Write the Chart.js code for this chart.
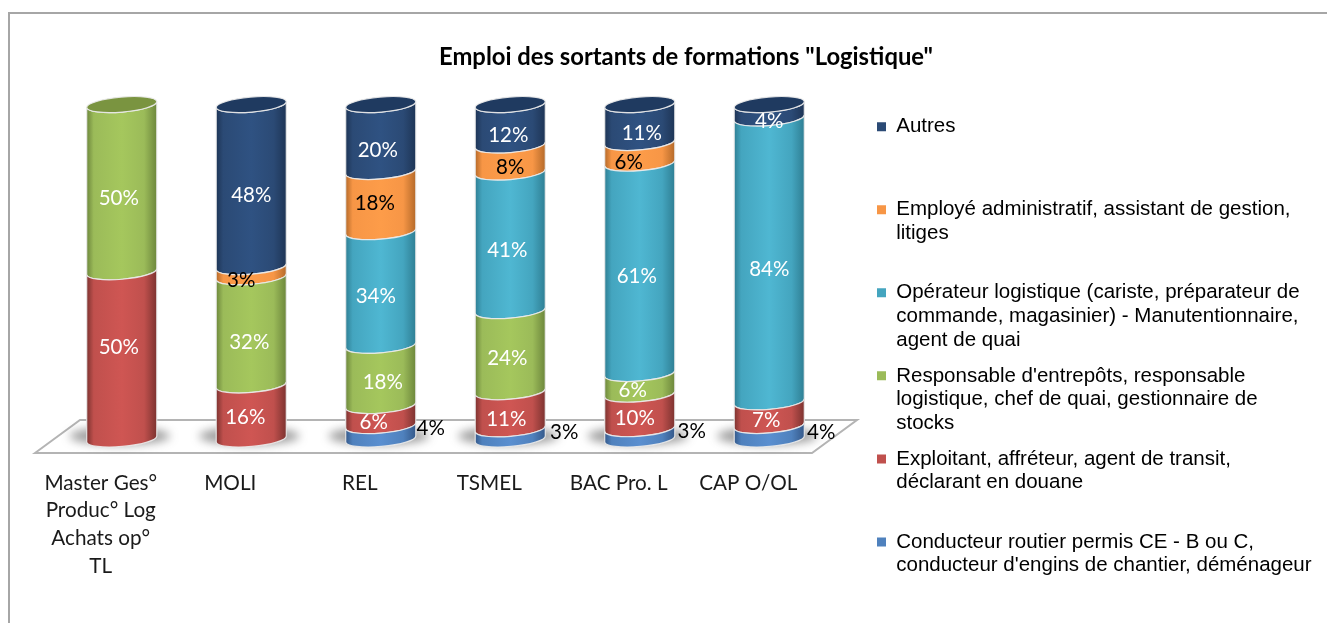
<!DOCTYPE html>
<html>
<head>
<meta charset="utf-8">
<script src="https://cdn.jsdelivr.net/npm/chart.js@4/dist/chart.umd.min.js"></script>
<style>
  html, body { margin: 0; padding: 0; background: #fff; overflow: hidden; }
  #wrap { position: relative; width: 1327px; height: 623px; }
  #frame { position: absolute; left: 8px; top: 12px; right: 0; bottom: 0; border-left: 2px solid #a6a6a6; border-top: 2px solid #a6a6a6; }
  canvas { position: absolute; left: 0; top: 0; }
</style>
</head>
<body>
<div id="wrap">
  <div id="frame"></div>
  <canvas id="chart" width="1327" height="623"></canvas>
</div>
<script>
const categories = [['Master Ges°', 'Produc° Log', 'Achats op°', 'TL'], 'MOLI', 'REL', 'TSMEL', 'BAC Pro. L', 'CAP O/OL'];

const conducteur = [0, 0, 4, 3, 3, 4];
const exploitant = [50, 16, 6, 11, 10, 7];
const responsable = [50, 32, 18, 24, 6, 0];
const operateur = [0, 0, 34, 41, 61, 84];
const employe = [0, 3, 18, 8, 6, 0];
const autres = [0, 48, 20, 12, 11, 4];

const legendConducteur = ['Conducteur routier permis CE - B ou C,', "conducteur d'engins de chantier, déménageur"];
const legendExploitant = ['Exploitant, affréteur, agent de transit,', 'déclarant en douane'];
const legendResponsable = ["Responsable d'entrepôts, responsable", 'logistique, chef de quai, gestionnaire de', 'stocks'];
const legendOperateur = ['Opérateur logistique (cariste, préparateur de', 'commande, magasinier) - Manutentionnaire,', 'agent de quai'];
const legendEmploye = ['Employé administratif, assistant de gestion,', 'litiges'];
const legendAutres = ['Autres'];

const chartTitle = 'Emploi des sortants de formations "Logistique"';

// the source is a 100% stacked chart, the printed values are rounded
const series = [conducteur, exploitant, responsable, operateur, employe, autres];
const totals = categories.map((c, i) => series.reduce((sum, s) => sum + s[i], 0));

function makeDataset(label, values, color, light, dark, cap) {
    return {
        label: label,
        data: values.map((v, i) => v / totals[i] * 100),
        raw: values,
        backgroundColor: color,
        borderWidth: 0,
        light: light,
        dark: dark,
        cap: cap
    };
}

const tilt = 3;      // how much the ellipses lean
const ry = 7.5;

// labels were moved by hand in the source chart: [dx, dy] per dataset and column
const labelNudge = [
    [[0, 0], [0, 0], [0, 0], [4, 2], [2, 2], [2, 4]],
    [[0, -14], [-3, -1], [-4, 1], [-1, 3], [-2, 1], [0, 1]],
    [[0, 4], [1, 5], [5, 1], [0, 1], [-4, 1], [0, 0]],
    [[0, 0], [0, 0], [-2, 2], [0, 3], [0, 2], [3, 3]],
    [[0, 0], [-7, 3], [-3, -4], [3, 3], [-8, 4], [0, 0]],
    [[0, 0], [3, 4], [0, 6], [1, 5], [5, 4], [3, 4]]
];

function cylinderPath(ctx, x, w, top, bottom) {
    const rx = w / 2;
    const angle = Math.atan2(-tilt, rx);
    ctx.beginPath();
    ctx.moveTo(x - rx, bottom + tilt);
    ctx.ellipse(x, bottom, Math.hypot(rx, tilt), ry, angle, Math.PI, 0, true);
    ctx.lineTo(x + rx, top - tilt);
    ctx.ellipse(x, top, Math.hypot(rx, tilt), ry, angle, 0, Math.PI, false);
    ctx.closePath();
}

function drawFloor(chart) {
    const ctx = chart.ctx;
    const a = chart.chartArea;
    const y = chart.scales.y.getPixelForValue(0);
    ctx.save();
    ctx.beginPath();
    ctx.moveTo(a.left - 22, y + 14);
    ctx.lineTo(a.left + 23, y - 19);
    ctx.lineTo(a.right + 23, y - 19);
    ctx.lineTo(a.right - 22, y + 14);
    ctx.closePath();
    ctx.fillStyle = '#ffffff';
    ctx.fill();
    ctx.strokeStyle = '#b4b4b4';
    ctx.lineWidth = 2;
    ctx.stroke();
    // soft shadows under the columns
    ctx.filter = 'blur(5px)';
    ctx.fillStyle = 'rgba(60,60,60,0.5)';
    chart.getDatasetMeta(0).data.forEach((bar) => {
        ctx.beginPath();
        ctx.ellipse(bar.x - 2, y - 3, bar.width / 2 + 15, 9, 0, 0, Math.PI * 2);
        ctx.fill();
    });
    ctx.restore();
}

const cylinders = {
    id: 'cylinders',
    beforeDatasetsDraw(chart) {
        drawFloor(chart);
    },
    // every bar keeps its place from the scales, only its look changes
    beforeDatasetDraw(chart, args) {
        const ctx = chart.ctx;
        const ds = chart.data.datasets[args.index];
        args.meta.data.forEach((bar, i) => {
            if (!ds.raw[i]) return;
            const w = bar.width;
            const left = bar.x - w / 2;
            const g = ctx.createLinearGradient(left, 0, left + w, 0);
            g.addColorStop(0, ds.dark);
            g.addColorStop(0.1, ds.backgroundColor);
            g.addColorStop(0.5, ds.light);
            g.addColorStop(0.82, ds.backgroundColor);
            g.addColorStop(1, ds.dark);
            cylinderPath(ctx, bar.x, w, bar.y, bar.base);
            ctx.fillStyle = g;
            ctx.fill();
            ctx.strokeStyle = 'rgba(235,235,235,0.9)';
            ctx.lineWidth = 1.2;
            ctx.stroke();
            // top cap on the last segment of the column
            const above = chart.data.datasets.slice(args.index + 1).some((d) => d.raw[i] > 0);
            if (!above) {
                ctx.beginPath();
                ctx.ellipse(bar.x, bar.y, Math.hypot(w / 2, tilt), ry, Math.atan2(-tilt, w / 2), 0, Math.PI * 2);
                ctx.fillStyle = ds.cap;
                ctx.fill();
                ctx.stroke();
            }
        });
        return false;
    },
    afterDatasetsDraw(chart) {
        const ctx = chart.ctx;
        ctx.save();
        ctx.font = '20.5px Lato';
        ctx.textAlign = 'center';
        ctx.textBaseline = 'middle';
        chart.data.datasets.forEach((ds, d) => {
            chart.getDatasetMeta(d).data.forEach((bar, i) => {
                if (!ds.raw[i]) return;
                const w = bar.width;
                const mid = (bar.y + bar.base) / 2;
                const nudge = labelNudge[d][i];
                if (d === 0) {
                    ctx.fillStyle = '#000000';
                    ctx.fillText(ds.raw[i] + '%', bar.x + w / 2 + 15 + nudge[0], mid - 4 + nudge[1]);
                } else {
                    ctx.fillStyle = d === 4 ? '#000000' : '#ffffff';
                    ctx.fillText(ds.raw[i] + '%', bar.x - 3 + nudge[0], mid + 6 + nudge[1]);
                }
            });
        });
        ctx.restore();
    },
    // the legend slots sit further right than the layout box
    afterInit(chart) {
        const fit = chart.legend.fit;
        chart.legend.fit = function () {
            fit.call(this);
            this.width = 493;
        };
    },
    afterLayout(chart) {
        chart.legend.left += 31;
        chart.legend.top += 104.5;
    }
};

new Chart(document.getElementById('chart'), {
    type: 'bar',
    data: {
        labels: categories,
        datasets: [
            makeDataset(legendConducteur, conducteur, '#4f81bd', '#5a8fd0', '#35598a', '#3f6aa0'),
            makeDataset(legendExploitant, exploitant, '#c0504d', '#cf5653', '#7d3330', '#8f3b39'),
            makeDataset(legendResponsable, responsable, '#9bbb59', '#a5c75d', '#6d873c', '#7a9440'),
            makeDataset(legendOperateur, operateur, '#44a5bf', '#4fb7d2', '#2f7f94', '#2f7f94'),
            makeDataset(legendEmploye, employe, '#f79646', '#fd9c49', '#b56a2a', '#c47430'),
            makeDataset(legendAutres, autres, '#2b4a75', '#2f5282', '#1e3556', '#1f3a60')
        ]
    },
    plugins: [cylinders],
    options: {
        responsive: false,
        animation: false,
        layout: { padding: { left: 45, right: 0, top: 0, bottom: 0 } },
        scales: {
            x: {
                stacked: true,
                offset: true,
                grid: { display: false, drawTicks: false },
                border: { display: false },
                ticks: {
                    color: '#1a1a1a',
                    font: { family: 'Lato', size: 20.7, lineHeight: 1.34 },
                    padding: 30,
                    labelOffset: -21,
                    maxRotation: 0,
                    autoSkip: false
                },
                afterFit: (scale) => { scale.height = 184; }
            },
            y: {
                stacked: true,
                min: 0,
                max: 100,
                grid: { display: false, drawTicks: false },
                border: { display: false },
                ticks: { display: false },
                afterFit: (scale) => { scale.width = 12; }
            }
        },
        datasets: { bar: { barPercentage: 0.541, categoryPercentage: 1 } },
        plugins: {
            tooltip: { enabled: false },
            title: {
                display: true,
                text: chartTitle,
                color: '#000000',
                font: { family: 'Lato', size: 23.8, weight: 'bold' },
                padding: { top: 43, bottom: 33 }
            },
            legend: {
                position: 'right',
                align: 'start',
                reverse: true,
                labels: {
                    boxWidth: 9,
                    boxHeight: 9,
                    padding: 12,
                    color: '#1a1a1a',
                    font: { family: '"Liberation Sans"', size: 20.5, lineHeight: 1.155 },
                    generateLabels(chart) {
                        // three lines in every item, that keeps the slots equal
                        return chart.data.datasets.map((ds, i) => ({
                            text: ds.label.concat(['', '', '']).slice(0, 3),
                            fillStyle: ds.backgroundColor,
                            strokeStyle: ds.backgroundColor,
                            lineWidth: 0,
                            datasetIndex: i
                        }));
                    }
                }
            }
        }
    }
});
</script>
</body>
</html>
